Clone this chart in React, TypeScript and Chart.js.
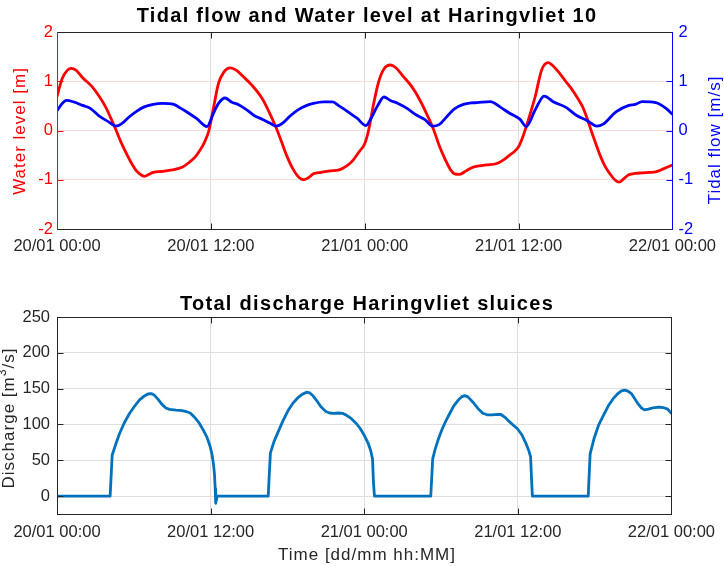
import React, { useEffect, useRef } from "react";
import { Chart, registerables } from "chart.js";

Chart.register(...registerables);

// ---- data -------------------------------------------------------------
// time axis: hours since 20/01 00:00
const timeTicks = [0, 12, 24, 36, 48];
const timeTickLabels = ["20/01 00:00", "20/01 12:00", "21/01 00:00", "21/01 12:00", "22/01 00:00"];
const levelTicks = [-2, -1, 0, 1, 2];
const flowTicks = [-2, -1, 0, 1, 2];
const dischargeTicks = [0, 50, 100, 150, 200, 250];

// water level [m]
const levelHours = [
  0, 0.4, 0.8, 1.1, 1.5, 2.0, 2.7, 3.3, 3.85, 4.2, 4.6, 5.0, 5.4, 5.8, 6.2, 6.6, 6.85, 7.1, 7.5, 8.2, 9.0, 9.8, 10.3,
  10.8, 11.2, 11.5, 11.85, 12.2, 12.6, 13.0, 13.5, 14.0, 14.5, 15.2, 16.0, 16.5, 17.1, 17.5, 17.9, 18.4, 18.9, 19.25,
  19.6, 20.0, 20.6, 21.3, 22.0, 22.6, 23.1, 23.6, 24.0, 24.3, 24.7, 25.1, 25.5, 26.0, 26.4, 27.0, 27.7, 28.3, 28.9,
  29.4, 29.8, 30.3, 30.7, 31.0, 31.4, 31.9, 32.3, 32.7, 33.5, 34.3, 34.8, 35.3, 35.7, 36.0, 36.3, 36.6, 37.0, 37.3,
  37.8, 38.3, 38.7, 39.2, 39.7, 40.2, 40.6, 41.0, 41.3, 41.65, 42.0, 42.4, 42.75, 43.1, 43.5, 43.84, 44.2, 44.6, 45.1,
  45.65, 46.2, 46.7, 47.3, 48.0,
];
const levelValues = [
  0.69, 1.05, 1.22, 1.26, 1.22, 1.07, 0.9, 0.69, 0.45, 0.25, 0.01, -0.24, -0.46, -0.66, -0.82, -0.91, -0.93, -0.9,
  -0.85, -0.83, -0.8, -0.74, -0.65, -0.53, -0.38, -0.24, 0.0, 0.45, 0.96, 1.18, 1.27, 1.22, 1.1, 0.92, 0.65, 0.4, 0.05,
  -0.22, -0.5, -0.78, -0.96, -1.0, -0.96, -0.88, -0.85, -0.82, -0.8, -0.72, -0.6, -0.42, -0.27, 0.0, 0.55, 1.0, 1.25,
  1.33, 1.28, 1.1, 0.88, 0.62, 0.3, 0.0, -0.3, -0.6, -0.8, -0.88, -0.89, -0.82, -0.76, -0.73, -0.7, -0.67, -0.6, -0.5,
  -0.42, -0.33, -0.15, 0.08, 0.42, 0.69, 1.23, 1.38, 1.31, 1.16, 0.99, 0.82, 0.66, 0.48, 0.28, 0.01, -0.25, -0.53,
  -0.73, -0.87, -1.0, -1.05, -0.98, -0.9, -0.87, -0.86, -0.85, -0.84, -0.78, -0.7,
];

// tidal flow [m/s]
const flowHours = [
  0, 0.4, 0.75, 1.3, 2.0, 2.6, 3.3, 4.0, 4.6, 5.1, 5.6, 6.2, 6.8, 7.5, 8.2, 9.1, 9.6, 10.1, 10.9, 11.7, 12.2, 12.6,
  13.1, 13.6, 14.2, 14.8, 15.4, 16.0, 16.6, 17.1, 17.6, 18.2, 18.8, 19.4, 20.0, 20.8, 21.5, 22.0, 22.7, 23.4, 24.1,
  24.5, 25.0, 25.5, 26.0, 26.6, 27.3, 28.0, 28.7, 29.3, 29.8, 30.4, 31.0, 31.7, 32.3, 32.75, 33.8, 34.55, 35.3, 36.1,
  36.6, 37.3, 38.0, 38.7, 39.7, 40.5, 41.3, 42.1, 42.6, 43.6, 44.6, 45.1, 45.65, 46.7, 47.5, 48.0,
];
const flowValues = [
  0.4, 0.55, 0.61, 0.58, 0.51, 0.45, 0.29, 0.18, 0.09, 0.15, 0.27, 0.39, 0.48, 0.53, 0.55, 0.53, 0.46, 0.38, 0.24,
  0.08, 0.35, 0.55, 0.66, 0.58, 0.52, 0.42, 0.3, 0.23, 0.15, 0.09, 0.15, 0.3, 0.42, 0.5, 0.55, 0.58, 0.58, 0.5, 0.38,
  0.25, 0.1, 0.25, 0.5, 0.68, 0.61, 0.55, 0.45, 0.32, 0.22, 0.09, 0.12, 0.28, 0.44, 0.53, 0.56, 0.565, 0.585, 0.48,
  0.35, 0.23, 0.08, 0.42, 0.7, 0.585, 0.47, 0.31, 0.21, 0.09, 0.13, 0.38, 0.51, 0.53, 0.585, 0.565, 0.45, 0.33,
];

// total sluice discharge [m3/s]
const dischargeHours = [
  0, 4.15, 4.31, 4.6, 4.88, 5.25, 5.65, 6.0, 6.43, 6.8, 7.1, 7.35, 7.6, 7.9, 8.2, 8.5, 8.8, 9.3, 9.78, 10.1, 10.43,
  10.8, 11.07, 11.4, 11.72, 11.95, 12.1, 12.22, 12.3, 12.36, 12.4, 12.44, 12.48,
  16.5, 16.67, 16.95, 17.26, 17.65, 18.04, 18.4, 18.8, 19.15, 19.5, 19.75, 20.0, 20.3, 20.6, 21.0, 21.3, 21.6, 22.0,
  22.3, 22.6, 23.0, 23.4, 23.7, 24.0, 24.3, 24.5, 24.65, 24.72, 24.8,
  29.2, 29.35, 29.55, 29.8, 30.1, 30.4, 30.7, 31.0, 31.3, 31.6, 31.85, 32.1, 32.5, 32.9, 33.27, 33.6, 34.0, 34.4,
  34.68, 35.0, 35.3, 35.65, 35.97, 36.3, 36.6, 36.85, 37.0, 37.07, 37.14,
  41.5, 41.65, 41.95, 42.3, 42.7, 43.07, 43.45, 43.84, 44.1, 44.36, 44.6, 44.9, 45.15, 45.4, 45.65, 45.9, 46.2, 46.55,
  46.9, 47.2, 47.45, 47.67, 48.0,
];
const dischargeValues = [
  0, 0, 57, 73, 87, 102, 115, 124, 134, 139.5, 142.5, 143, 141, 135, 128, 123, 121, 120, 119.4, 118, 115.7,
  109, 103, 93, 82, 70, 59, 45, 31.5, 10, -10, -5, 0,
  0, 60, 76, 89, 105, 119, 129, 137, 142, 145, 144, 140, 133, 125, 118, 116, 115.5, 116,
  115.5, 113, 108, 101, 94, 85, 74, 64, 52, 20, 0,
  0, 52, 66, 80, 94, 105.6, 116, 126, 133, 138.5, 140.3, 138.5, 131, 122, 115.7, 113.5, 113.4, 114.2,
  113.9, 110, 104.6, 99, 94, 86, 75, 64, 54.6, 25, 0,
  0, 59, 80, 98.6, 113, 126, 136, 143.5, 147, 148, 146.5, 142.6, 135.5, 128.7, 123, 120.4, 121.5, 123,
  124, 124, 123, 121.8, 115.7,
];

// ---- styling ------------------------------------------------------------
const FONT = "'Liberation Sans', Arial, Helvetica, sans-serif";
const DARK = "#262626";
const GRID_GRAY = "#dfdfdf";
const GRID_PINK = "#ffd9d9";
const RED = "#ff0000";
const BLUE = "#0000ff";
const MATLAB_BLUE = "#0072bd";

const toPoints = (xs: number[], ys: number[]) => xs.map((x, i) => ({ x, y: ys[i] }));
const fixTicks = (values: number[]) => (s: any) => {
  s.ticks = values.map((v) => ({ value: v }));
};

type Seg = { t: string; sup?: boolean };
type Label = {
  segs: Seg[];
  x: number;
  y: number;
  rot: number;
  size: number;
  bold?: boolean;
  color: string;
  spacing: number;
  baseline: CanvasTextBaseline;
};

// draws titles and axis labels
function makeTextPlugin(labels: Label[]) {
  return {
    id: "figureText",
    afterDraw(chart: any) {
      const ctx: CanvasRenderingContext2D = chart.ctx;
      for (const l of labels) {
        ctx.save();
        ctx.translate(l.x, l.y);
        ctx.rotate(l.rot);
        ctx.fillStyle = l.color;
        ctx.textBaseline = l.baseline;
        ctx.textAlign = "left";
        (ctx as any).letterSpacing = `${l.spacing}px`;
        const fontFor = (s: Seg) => `${l.bold ? "bold " : ""}${s.sup ? l.size * 0.72 : l.size}px ${FONT}`;
        let total = 0;
        const widths = l.segs.map((s) => {
          ctx.font = fontFor(s);
          const w = ctx.measureText(s.t).width;
          total += w;
          return w;
        });
        let x = -total / 2;
        l.segs.forEach((s, i) => {
          ctx.font = fontFor(s);
          ctx.fillText(s.t, x, s.sup ? -l.size * 0.4 : 0);
          x += widths[i];
        });
        ctx.restore();
      }
    },
  };
}

// box outline and inward tick marks
function makeFramePlugin(sides: { left: string; right: string; top: string; bottom: string }, tickColors: Record<string, string>, mirrorLeftTicks: boolean) {
  return {
    id: "axesFrame",
    afterDraw(chart: any) {
      const ctx: CanvasRenderingContext2D = chart.ctx;
      const a = chart.chartArea;
      const L = 6;
      const px = (v: number) => Math.round(v) + 0.5;
      const l = px(a.left), r = px(a.right), t = px(a.top), b = px(a.bottom);
      ctx.save();
      ctx.lineWidth = 1;
      for (const id of Object.keys(chart.scales)) {
        const s = chart.scales[id];
        ctx.strokeStyle = tickColors[id] || DARK;
        ctx.beginPath();
        s.ticks.forEach((tk: any) => {
          const p = px(s.getPixelForValue(tk.value));
          if (s.isHorizontal()) {
            ctx.moveTo(p, b); ctx.lineTo(p, b - L);
            ctx.moveTo(p, t); ctx.lineTo(p, t + L);
          } else if (s.position === "left") {
            ctx.moveTo(l, p); ctx.lineTo(l + L, p);
            if (mirrorLeftTicks) { ctx.moveTo(r, p); ctx.lineTo(r - L, p); }
          } else {
            ctx.moveTo(r, p); ctx.lineTo(r - L, p);
          }
        });
        ctx.stroke();
      }
      const seg = (c: string, x1: number, y1: number, x2: number, y2: number) => {
        ctx.strokeStyle = c;
        ctx.beginPath();
        ctx.moveTo(x1, y1);
        ctx.lineTo(x2, y2);
        ctx.stroke();
      };
      seg(sides.top, l, t, r, t);
      seg(sides.bottom, l, b, r, b);
      seg(sides.left, l, t, l, b);
      seg(sides.right, r, t, r, b);
      ctx.restore();
    },
  };
}

const tickFont = { family: FONT, size: 16.5 };

const timeAxis = (height: number, pad: number) => ({
  type: "linear" as const,
  min: 0,
  max: 48,
  afterBuildTicks: fixTicks(timeTicks),
  afterFit: (s: any) => {
    s.height = height;
  },
  ticks: {
    callback: (_v: any, i: number) => timeTickLabels[i],
    color: DARK,
    font: tickFont,
    padding: pad,
    maxRotation: 0,
    autoSkip: false,
  },
  grid: { color: GRID_GRAY, drawTicks: false, lineWidth: 1 },
  border: { color: DARK, width: 1 },
});

export default function App() {
  const topRef = useRef<HTMLCanvasElement>(null);
  const bottomRef = useRef<HTMLCanvasElement>(null);

  useEffect(() => {
    const topChart = new Chart(topRef.current as HTMLCanvasElement, {
      type: "line",
      data: {
        datasets: [
          {
            label: "Water level",
            data: toPoints(levelHours, levelValues),
            yAxisID: "y",
            borderColor: RED,
            borderWidth: 2.8,
            pointRadius: 0,
            cubicInterpolationMode: "monotone",
            borderJoinStyle: "round",
            borderCapStyle: "round",
            order: 2,
          },
          {
            label: "Tidal flow",
            data: toPoints(flowHours, flowValues),
            yAxisID: "y1",
            borderColor: BLUE,
            borderWidth: 2.8,
            pointRadius: 0,
            cubicInterpolationMode: "monotone",
            borderJoinStyle: "round",
            borderCapStyle: "round",
            order: 1,
          },
        ],
      },
      options: {
        animation: false,
        responsive: false,
        devicePixelRatio: 1,
        parsing: false,
        layout: { padding: { top: 32, left: 0, right: 0, bottom: 0 } },
        plugins: { legend: { display: false }, tooltip: { enabled: false }, title: { display: false } },
        events: [],
        scales: {
          x: timeAxis(54, 8),
          y: {
            type: "linear",
            position: "left",
            min: -2,
            max: 2,
            afterBuildTicks: fixTicks(levelTicks),
            afterFit: (s: any) => {
              s.width = 57;
            },
            ticks: { color: RED, font: tickFont, padding: 4 },
            grid: { color: GRID_PINK, drawTicks: false, lineWidth: 1 },
            border: { color: RED, width: 1 },
          },
          y1: {
            type: "linear",
            position: "right",
            min: -2,
            max: 2,
            afterBuildTicks: fixTicks(flowTicks),
            afterFit: (s: any) => {
              s.width = 47;
            },
            ticks: { color: BLUE, font: tickFont, padding: 6 },
            grid: { display: false, drawTicks: false },
            border: { color: BLUE, width: 1 },
          },
        },
      },
      plugins: [
        makeFramePlugin({ left: RED, right: BLUE, top: DARK, bottom: DARK }, { x: DARK, y: RED, y1: BLUE }, false),
        makeTextPlugin([
          { segs: [{ t: "Tidal flow and Water level at Haringvliet 10" }], x: 367, y: 22, rot: 0, size: 20, bold: true, color: "#000", spacing: 1.3, baseline: "alphabetic" },
          { segs: [{ t: "Water level [m]" }], x: 20, y: 131, rot: -Math.PI / 2, size: 17, color: RED, spacing: 1, baseline: "middle" },
          { segs: [{ t: "Tidal flow [m/s]" }], x: 715, y: 140, rot: -Math.PI / 2, size: 17, color: BLUE, spacing: 1, baseline: "middle" },
        ]),
      ],
    } as any);

    const bottomChart = new Chart(bottomRef.current as HTMLCanvasElement, {
      type: "line",
      data: {
        datasets: [
          {
            label: "Discharge",
            data: toPoints(dischargeHours, dischargeValues),
            borderColor: MATLAB_BLUE,
            borderWidth: 2.8,
            pointRadius: 0,
            tension: 0,
            borderJoinStyle: "round",
            borderCapStyle: "round",
          },
        ],
      },
      options: {
        animation: false,
        responsive: false,
        devicePixelRatio: 1,
        parsing: false,
        layout: { padding: { top: 34, left: 0, right: 47, bottom: 0 } },
        plugins: { legend: { display: false }, tooltip: { enabled: false }, title: { display: false } },
        events: [],
        scales: {
          x: timeAxis(52, 9),
          y: {
            type: "linear",
            position: "left",
            min: -25,
            max: 250,
            afterBuildTicks: fixTicks(dischargeTicks),
            afterFit: (s: any) => {
              s.width = 57;
            },
            ticks: { color: DARK, font: tickFont, padding: 7 },
            grid: { color: GRID_GRAY, drawTicks: false, lineWidth: 1 },
            border: { color: DARK, width: 1 },
          },
        },
      },
      plugins: [
        makeFramePlugin({ left: DARK, right: DARK, top: DARK, bottom: DARK }, { x: DARK, y: DARK }, true),
        makeTextPlugin([
          { segs: [{ t: "Total discharge Haringvliet sluices" }], x: 367, y: 27, rot: 0, size: 20, bold: true, color: "#000", spacing: 1.3, baseline: "alphabetic" },
          { segs: [{ t: "Discharge [m" }, { t: "3", sup: true }, { t: "/s]" }], x: 9, y: 135, rot: -Math.PI / 2, size: 17, color: DARK, spacing: 1, baseline: "middle" },
          { segs: [{ t: "Time [dd/mm hh:MM]" }], x: 367, y: 277, rot: 0, size: 17, color: DARK, spacing: 1, baseline: "alphabetic" },
        ]),
      ],
    } as any);

    return () => {
      topChart.destroy();
      bottomChart.destroy();
    };
  }, []);

  return (
    <div style={{ position: "fixed", left: 0, top: 0, width: 724, height: 566, background: "#ffffff" }}>
      <canvas ref={topRef} width={724} height={283} style={{ position: "absolute", left: 0, top: 0, width: 724, height: 283 }} />
      <canvas ref={bottomRef} width={724} height={283} style={{ position: "absolute", left: 0, top: 283, width: 724, height: 283 }} />
    </div>
  );
}
